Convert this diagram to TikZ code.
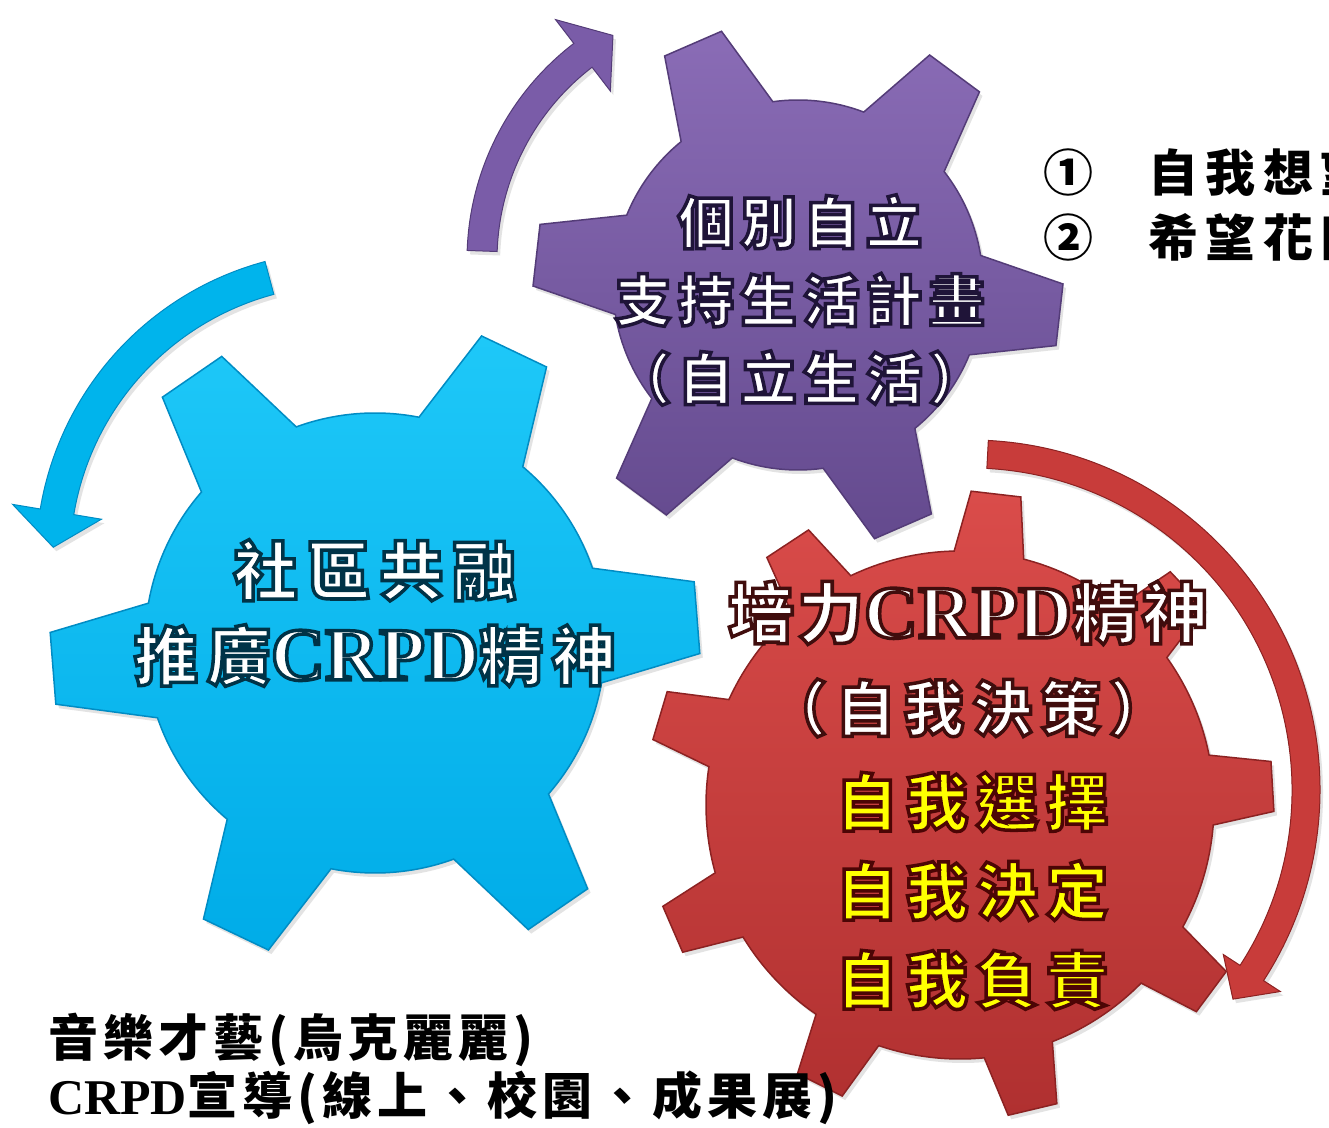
\documentclass[tikz,border=0pt]{standalone}
\usepackage{fontspec}
\usetikzlibrary{shadows}
\setmainfont{Liberation Serif}
\newfontfamily\cjk{Noto Sans CJK TC}
\definecolor{purpTop}{RGB}{138,108,182}
\definecolor{purpBot}{RGB}{100,74,142}
\definecolor{purpEdge}{RGB}{84,60,120}
\definecolor{blueTop}{RGB}{30,200,248}
\definecolor{blueBot}{RGB}{0,172,232}
\definecolor{blueEdge}{RGB}{0,140,196}
\definecolor{redTop}{RGB}{218,76,74}
\definecolor{redBot}{RGB}{176,48,48}
\definecolor{redEdge}{RGB}{140,34,34}
\definecolor{purpArrow}{RGB}{122,92,168}
\definecolor{blueArrow}{RGB}{0,180,236}
\definecolor{redArrow}{RGB}{200,60,58}
\definecolor{txtYellow}{RGB}{255,255,0}
% outlined text: stroke width, stroke rgb, text
\newcommand\outlined[3]{\special{pdf:literal direct 2 Tr #1 w #2 RG}#3\special{pdf:literal direct 0 Tr}}
\newcommand\crpd[1]{{\rmfamily\bfseries\fontsize{#1}{#1}\selectfont CRPD}}
% gear: options, cx, cy, outer radius, body radius, teeth, first angle, tip width, base width
\newcommand\drawgear[9]{%
  \pgfmathsetmacro\gstep{360/#6}%
  \pgfmathsetmacro\gtau{asin(#8/2/#4)}%
  \pgfmathsetmacro\gbeta{asin(#9/2/#5)}%
  \pgfmathtruncatemacro\glast{#6-1}%
  \path[#1,shift={(#2,#3)}] ({#7-\gbeta}:#5)
    \foreach \k in {0,...,\glast}{
      -- ({#7+\k*\gstep-\gtau}:#4) -- ({#7+\k*\gstep+\gtau}:#4)
      -- ({#7+\k*\gstep+\gbeta}:#5)
      arc[start angle={#7+\k*\gstep+\gbeta}, end angle={#7+(\k+1)*\gstep-\gbeta}, radius=#5]
    } -- cycle;%
}
% circular arrow: options, cx, cy, centre radius, half width, tail angle, head base angle, tip angle, head half width
\newcommand\circarrow[9]{%
  \path[#1,shift={(#2,#3)}] ({#6}:{#4+#5})
    arc[start angle=#6, end angle=#7, radius={#4+#5}]
    -- ({#7}:{#4+#9}) -- ({#8}:{#4}) -- ({#7}:{#4-#9}) -- ({#7}:{#4-#5})
    arc[start angle=#7, end angle=#6, radius={#4-#5}] -- cycle;%
}
\tikzset{
  geartext/.style={align=center, inner sep=0pt},
  soft shadow/.style={drop shadow={opacity=0.22, shadow xshift=3pt, shadow yshift=-4pt}},
}
\begin{document}
\begin{tikzpicture}[x=1pt,y=1pt]
\clip (0,0) rectangle (1329,1127);
\fill[white] (0,0) rectangle (1329,1127);
% gears
\drawgear{soft shadow,top color=blueTop,bottom color=blueBot,draw=blueEdge,line width=1.5pt}{375}{484}{325}{230}{6}{4.5}{72}{115}
\drawgear{soft shadow,top color=purpTop,bottom color=purpBot,draw=purpEdge,line width=1.5pt}{798}{842}{265}{185}{6}{-6.5}{62}{100}
\drawgear{soft shadow,top color=redTop,bottom color=redBot,draw=redEdge,line width=1.5pt}{960}{322}{314}{254}{9}{3.4}{50}{70}
% arrows
\circarrow{soft shadow,fill=purpArrow,draw=purpEdge,line width=1pt}{740}{867}{258}{15}{178}{127.5}{119.5}{45}
\circarrow{soft shadow,fill=blueArrow,draw=blueEdge,line width=1pt}{345}{567}{292}{17}{105}{170.5}{177.5}{45}
\circarrow{soft shadow,fill=redArrow,draw=redEdge,line width=1pt}{970}{337}{336}{14}{87}{-33}{-38.5}{34}
% texts
\node[geartext, text=white, font={\cjk\bfseries\fontsize{56}{78}\selectfont\addfontfeature{LetterSpace=12}}]
  (purpletext) at (800,827) {\outlined{3.5}{0.12 0.08 0.22}{個別自立\\支持生活計畫\\（自立生活）}};
\node[geartext, text=white, font={\cjk\bfseries\fontsize{64}{85}\selectfont\addfontfeature{LetterSpace=14}}]
  (bluetext) at (375,514) {\outlined{3.5}{0 0.2 0.28}{社區共融\\推廣\crpd{75}精神}};
\node[geartext, text=white, font={\cjk\bfseries\fontsize{66}{93}\selectfont\addfontfeature{LetterSpace=6}}]
  (redtitle) at (968,468) {\outlined{3.5}{0.25 0.05 0.05}{培力\crpd{75}精神\\{\fontsize{60}{93}\selectfont\addfontfeature{LetterSpace=14}（自我決策）}}};
\node[geartext, text=txtYellow, font={\cjk\bfseries\fontsize{62}{89}\selectfont\addfontfeature{LetterSpace=13}}]
  (redlist) at (972,236) {\outlined{3.5}{0.3 0.02 0.02}{自我選擇\\自我決定\\自我負責}};
\node[anchor=west, inner sep=0pt, align=left, font={\cjk\bfseries\fontsize{50}{58}\selectfont\addfontfeature{LetterSpace=10}}]
  (bottomtext) at (48,58) {音樂才藝(烏克麗麗)\\\crpd{50}宣導(線上、校園、成果展)};
\node[anchor=west, inner sep=0pt, font={\cjk\bfseries\fontsize{50}{65}\selectfont\addfontfeature{LetterSpace=15}}]
  (goals) at (1043,916) {\begin{tabular}{@{}l@{\hspace{55pt}}l@{}}①&自我想望\\②&希望花田\end{tabular}};
\end{tikzpicture}
\end{document}
